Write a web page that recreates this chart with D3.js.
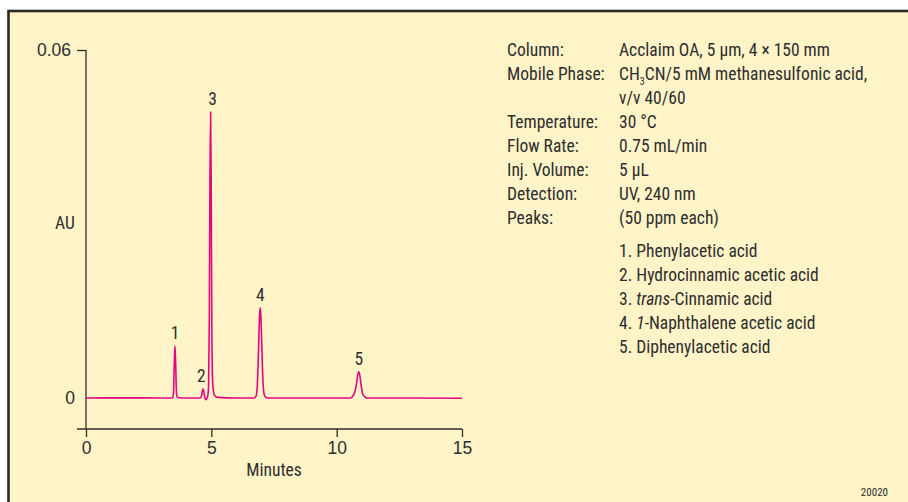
<!DOCTYPE html>
<html><head><meta charset="utf-8">
<script src="https://cdn.jsdelivr.net/npm/d3@7"></script>
<style>
html,body{margin:0;padding:0;background:#fff;}
svg{display:block;font-family:"Liberation Sans Narrow","Arial Narrow","Roboto Condensed",sans-serif;}
</style></head>
<body><svg id="c" width="908" height="502"></svg>
<script>
// ---- data ----
const traceTime = [0, 1.5, 3.0, 3.45, 3.49, 3.52, 3.55, 3.58, 3.61, 3.65, 4.0, 4.55, 4.61, 4.64, 4.67, 4.70, 4.73, 4.78, 4.82, 4.86, 4.89, 4.92, 4.945, 4.97, 4.995, 5.02, 5.05, 5.09, 5.14, 5.25, 6.0, 6.72, 6.79, 6.83, 6.86, 6.89, 6.92, 6.95, 6.98, 7.01, 7.04, 7.07, 7.11, 7.18, 7.3, 9.0, 10.56, 10.64, 10.72, 10.76, 10.80, 10.84, 10.88, 10.92, 10.96, 11.00, 11.04, 11.12, 11.2, 13.0, 15.0];
const traceAU = [0, 0.00003, 0, 0, 0.0008, 0.0055, 0.009, 0.0055, 0.0008, 0.0001, 0, 0, 0.0004, 0.0011, 0.0016, 0.0011, 0.0003, -0.0003, -0.0001, 0.0004, 0.002, 0.014, 0.038, 0.0493, 0.036, 0.012, 0.003, 0.001, 0.0004, 0.0001, 0, 0, 0.0004, 0.0019, 0.0051, 0.0095, 0.0138, 0.0156, 0.0138, 0.0095, 0.0051, 0.0021, 0.0006, 0.0001, 0, 0, 0, 0.0003, 0.0010, 0.0017, 0.0027, 0.0040, 0.0045, 0.0040, 0.0027, 0.0015, 0.0007, 0.0002, 0, 0, -0.00005];
const peakLabels = ["1", "2", "3", "4", "5"];
const peakTimes = [3.55, 4.6, 5.05, 6.95, 10.88];
const peakTops = [0.009, 0.0016, 0.0493, 0.0156, 0.0045];
const xTicks = [0, 5, 10, 15];
const yTicks = [0, 0.06];
const condLabels = ["Column:", "Mobile Phase:", "", "Temperature:", "Flow Rate:", "Inj. Volume:", "Detection:", "Peaks:"];
const condValues = ["Acclaim OA, 5 \u00b5m, 4 \u00d7 150 mm", "CH3CN/5 mM methanesulfonic acid,", "v/v 40/60", "30 \u00b0C", "0.75 mL/min", "5 \u00b5L", "UV, 240 nm", "(50 ppm each)"];
const peakNames = [["1. ", "", "Phenylacetic acid"], ["2. ", "", "Hydrocinnamic acetic acid"], ["3. ", "trans", "-Cinnamic acid"], ["4. ", "1", "-Naphthalene acetic acid"], ["5. ", "", "Diphenylacetic acid"]];
const figId = "20020";

// ---- drawing ----
const svg = d3.select("#c");
const ink = "#2e2e2e";
const fs = 17.5;
svg.append("rect").attr("x", 8.5).attr("y", 11).attr("width", 905).attr("height", 500)
  .attr("fill", "#fff4c8").attr("stroke", "#2a2a2a").attr("stroke-width", 2.6);

const x = d3.scaleLinear().domain([0, 15]).range([86, 462]);
const y = d3.scaleLinear().domain([0, 0.06]).range([398, 50]);
const yBottom = 429;

// y axis
const gy = svg.append("g").attr("transform", "translate(86,0)")
  .call(d3.axisLeft(y).tickValues(yTicks).tickFormat(d => d === 0 ? "0" : d3.format(".2f")(d)).tickSize(9).tickSizeOuter(0).tickPadding(6));
gy.select(".domain").remove();
gy.selectAll(".tick line").attr("stroke", ink).attr("stroke-width", 1.3).filter(d => d === 0).remove();
gy.selectAll(".tick text").attr("fill", ink).attr("font-size", fs).attr("font-family", null)
  .attr("dy", "0.34em").attr("x", d => d === 0 ? -11 : -15);
gy.append("line").attr("x1", 0).attr("x2", 0).attr("y1", y(0.06)).attr("y2", yBottom).attr("stroke", ink).attr("stroke-width", 1.3);

// x axis
const gx = svg.append("g").attr("transform", `translate(0,${yBottom})`)
  .call(d3.axisBottom(x).tickValues(xTicks).tickSize(8).tickSizeOuter(0).tickPadding(5));
gx.select(".domain").remove();
gx.append("line").attr("x1", x(0) - 9).attr("x2", x(15)).attr("y1", 0).attr("y2", 0).attr("stroke", ink).attr("stroke-width", 1.3);
gx.selectAll(".tick line").attr("stroke", ink).attr("stroke-width", 1.3);
gx.selectAll(".tick text").attr("fill", ink).attr("font-size", fs).attr("font-family", null);

svg.append("text").attr("x", 274).attr("y", 476).attr("text-anchor", "middle").attr("fill", ink).attr("font-size", fs).text("Minutes");
svg.append("text").attr("x", 65).attr("y", 229).attr("text-anchor", "middle").attr("fill", ink).attr("font-size", fs).text("AU");

// trace
const pts = traceTime.map((t, i) => [t, traceAU[i]]);
svg.append("path").datum(pts)
  .attr("d", d3.line().x(d => x(d[0])).y(d => y(d[1])).curve(d3.curveMonotoneX))
  .attr("fill", "none").attr("stroke", "#e5067f").attr("stroke-width", 1.6).attr("stroke-linejoin", "round");

// peak labels
svg.selectAll("text.pk").data(peakLabels).enter().append("text").attr("class", "pk")
  .attr("x", (d, i) => x(peakTimes[i])).attr("y", (d, i) => y(peakTops[i]) - 7)
  .attr("text-anchor", "middle").attr("fill", ink).attr("font-size", fs).text(d => d);

// conditions
const condTop = 56;
const condStep = 24;
condLabels.forEach((lab, i) => {
  if (lab) svg.append("text").attr("x", 507).attr("y", condTop + i * condStep).attr("fill", ink).attr("font-size", fs).text(lab);
  const t = svg.append("text").attr("x", 619).attr("y", condTop + i * condStep).attr("fill", ink).attr("font-size", fs);
  const v = condValues[i];
  if (v.startsWith("CH3CN")) {
    t.append("tspan").text("CH");
    t.append("tspan").attr("font-size", 10).attr("dy", 5).text("3");
    t.append("tspan").attr("dy", -5).text(v.slice(3));
  } else t.text(v);
});

const listTop = 257;
const listStep = 24;
peakNames.forEach((p, i) => {
  const t = svg.append("text").attr("x", 619).attr("y", listTop + i * listStep).attr("fill", ink).attr("font-size", fs);
  t.append("tspan").text(p[0]);
  if (p[1]) t.append("tspan").attr("font-style", "italic").text(p[1]);
  t.append("tspan").text(p[2]);
});

svg.append("text").attr("x", 888).attr("y", 496).attr("text-anchor", "end").attr("fill", ink).attr("font-size", 11).text(figId);
</script></body></html>
